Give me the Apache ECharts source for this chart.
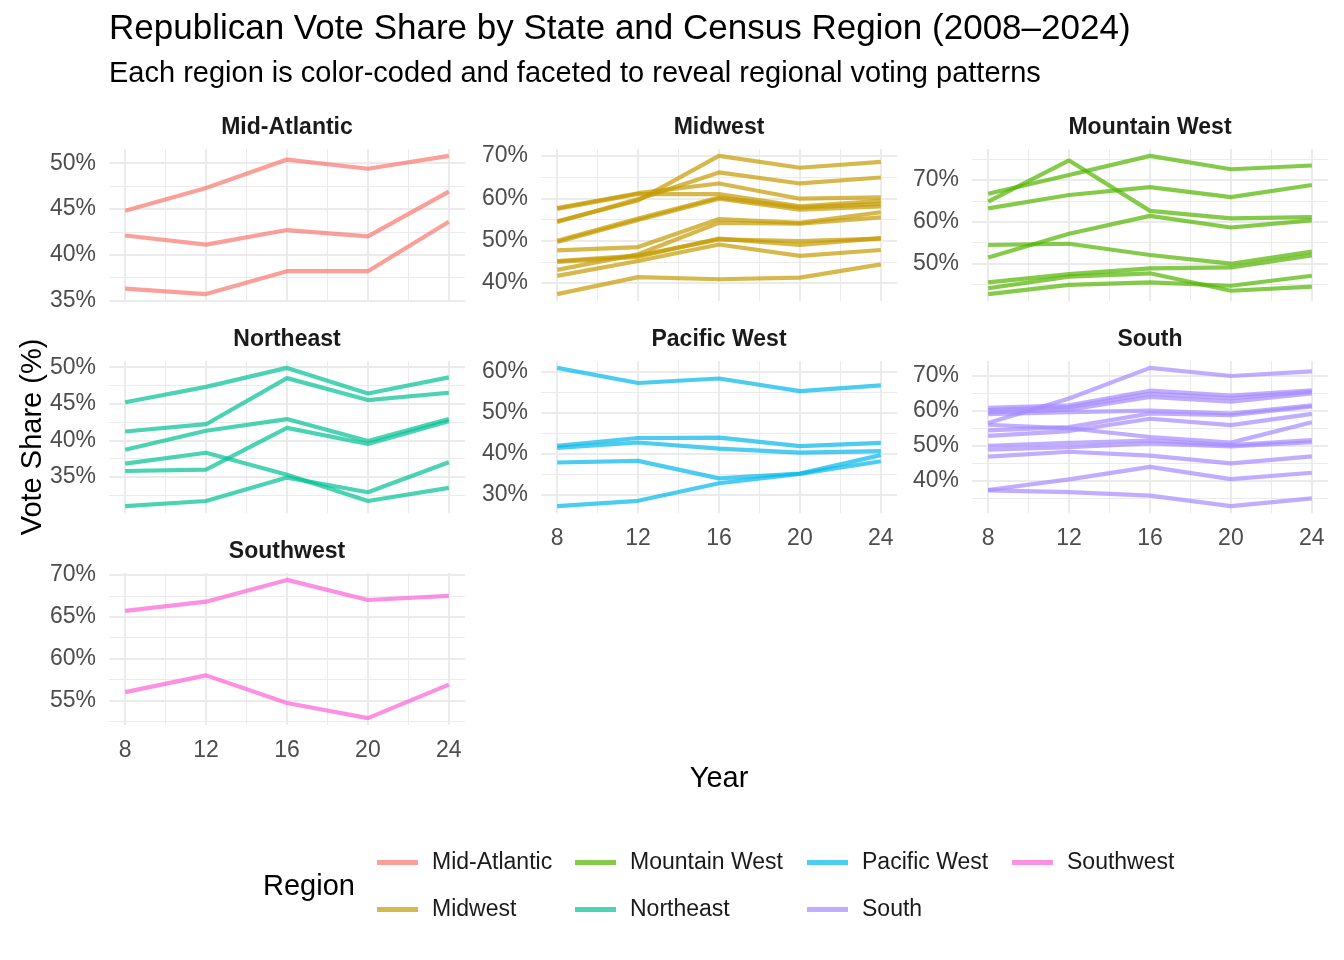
<!DOCTYPE html>
<html><head><meta charset="utf-8">
<script src="https://cdn.jsdelivr.net/npm/echarts@6/dist/echarts.min.js"></script>
<style>html,body{margin:0;padding:0;background:#fff}#c{width:1344px;height:960px}</style>
</head><body><div id="c"></div>
<script>
// ---------- DATA ----------
const years = [8, 12, 16, 20, 24];
const xMajorTicks = [8, 12, 16, 20, 24];
const xMinorTicks = [10, 14, 18, 22];
const regions = ['Mid-Atlantic', 'Midwest', 'Mountain West', 'Northeast', 'Pacific West', 'South', 'Southwest'];
const regionColors = ['#F8766D', '#C49A00', '#53B400', '#00C094', '#00B6EB', '#A58AFF', '#FB61D7'];
const yMajorStep = [5, 10, 10, 5, 10, 10, 5];

const midAtlantic = [
  [44.8, 47.3, 50.4, 49.4, 50.8],
  [42.1, 41.1, 42.7, 42.0, 46.9],
  [36.3, 35.7, 38.2, 38.2, 43.6]
];
const midwest = [
  [54.6, 59.5, 70.0, 67.2, 68.6],
  [54.4, 59.8, 66.1, 63.5, 64.9],
  [57.7, 61.2, 63.5, 59.9, 60.2],
  [57.5, 61.0, 61.0, 58.1, 59.4],
  [50.0, 55.2, 60.2, 57.8, 58.7],
  [49.7, 54.9, 59.9, 57.3, 58.1],
  [47.7, 48.5, 55.1, 54.2, 56.7],
  [43.1, 46.8, 54.2, 54.0, 55.5],
  [45.2, 46.5, 50.3, 49.9, 50.5],
  [45.0, 46.2, 50.5, 49.0, 50.6],
  [41.7, 45.2, 49.1, 46.4, 47.8],
  [37.4, 41.4, 40.9, 41.3, 44.4]
];
const mountainWest = [
  [66.7, 71.2, 75.8, 72.6, 73.5],
  [64.8, 74.7, 62.6, 60.8, 61.1],
  [63.2, 66.4, 68.3, 65.9, 68.8],
  [51.4, 57.1, 61.4, 58.6, 60.3],
  [54.4, 54.7, 52.0, 49.9, 52.8],
  [45.4, 47.4, 48.8, 49.0, 51.9],
  [44.0, 46.8, 47.6, 43.4, 44.4],
  [42.6, 44.8, 45.4, 44.6, 47.0]
];
const northeast = [
  [45.2, 47.3, 49.9, 46.4, 48.6],
  [41.2, 42.2, 48.5, 45.5, 46.5],
  [38.7, 41.3, 42.9, 39.9, 42.9],
  [36.8, 38.3, 35.3, 31.7, 33.5],
  [35.8, 36.0, 41.7, 39.5, 42.6],
  [31.0, 31.7, 34.9, 32.9, 37.0]
];
const pacificWest = [
  [61.0, 57.3, 58.4, 55.3, 56.7],
  [41.9, 43.8, 43.9, 41.8, 42.6],
  [41.4, 42.7, 41.2, 40.2, 40.6],
  [37.8, 38.2, 33.9, 35.1, 39.6],
  [27.1, 28.4, 32.7, 35.0, 38.1]
];
const south = [
  [56.5, 63.5, 72.2, 69.9, 71.2],
  [60.8, 61.5, 65.7, 64.3, 65.8],
  [60.2, 61.0, 64.8, 63.6, 65.4],
  [59.5, 60.3, 63.9, 62.6, 64.9],
  [59.0, 59.6, 60.0, 59.2, 61.5],
  [54.4, 55.3, 59.2, 58.7, 61.2],
  [52.8, 54.2, 57.7, 55.9, 59.1],
  [56.0, 55.0, 52.5, 50.9, 56.7],
  [50.0, 50.8, 51.5, 50.2, 51.6],
  [48.9, 49.6, 50.7, 49.8, 51.0],
  [46.9, 48.3, 47.2, 45.0, 47.0],
  [37.4, 40.4, 44.0, 40.5, 42.3],
  [37.3, 36.8, 35.8, 32.8, 35.0]
];
const southwest = [
  [65.7, 66.8, 69.4, 67.0, 67.5],
  [56.0, 58.0, 54.7, 52.9, 56.9]
];
const regionData = [midAtlantic, midwest, mountainWest, northeast, pacificWest, south, southwest];

// ---------- LAYOUT ----------
const FF = '"Liberation Sans", Arial, Helvetica, sans-serif';
const colLeft = [109, 541, 972];
const rowTop = [149, 361, 573];
const panelW = 356, panelH = 152;
const showXLabels = [false, false, false, false, true, true, true];
const gridColor = '#EBEBEB';
const tickColor = '#4D4D4D';

const grids = [], xAxes = [], yAxes = [], series = [], graphics = [];

function round6(v) { return Math.round(v * 1e6) / 1e6; }

regions.forEach((reg, i) => {
  const row = Math.floor(i / 3), col = i % 3;
  grids.push({ left: colLeft[col], top: rowTop[row], width: panelW, height: panelH });

  // y extent with ggplot-style 5% expansion
  const vals = regionData[i].flat();
  const dmin = Math.min(...vals), dmax = Math.max(...vals);
  const pad = 0.05 * (dmax - dmin);
  const ymin = dmin - pad, ymax = dmax + pad;
  const step = yMajorStep[i];
  const major = [], minor = [];
  for (let v = Math.ceil(ymin / (step / 2)) * (step / 2); v <= ymax + 1e-9; v += step / 2) {
    const r = round6(v);
    if (Math.abs(r / step - Math.round(r / step)) < 1e-6) major.push(r); else minor.push(r);
  }

  const xBase = {
    type: 'value', gridIndex: i, min: 7.2, max: 24.8,
    axisLine: { show: false }
  };
  xAxes.push(Object.assign({}, xBase, {
    position: 'bottom',
    axisTick: { show: false, customValues: xMajorTicks },
    axisLabel: { show: showXLabels[i], customValues: xMajorTicks, margin: 14, fontSize: 23, color: tickColor, fontFamily: FF },
    splitLine: { show: true, lineStyle: { color: gridColor, width: 2 } }
  }));
  xAxes.push(Object.assign({}, xBase, {
    position: 'bottom',
    axisTick: { show: false, customValues: xMinorTicks },
    axisLabel: { show: false, customValues: xMinorTicks },
    splitLine: { show: true, lineStyle: { color: gridColor, width: 1 } }
  }));
  const yBase = { type: 'value', gridIndex: i, min: ymin, max: ymax, axisLine: { show: false }, scale: true };
  yAxes.push(Object.assign({}, yBase, {
    position: 'left',
    axisTick: { show: false, customValues: major },
    axisLabel: { show: true, customValues: major, margin: 13, fontSize: 23, color: tickColor, fontFamily: FF,
      formatter: v => Math.round(v) + '%' },
    splitLine: { show: true, lineStyle: { color: gridColor, width: 2 } }
  }));
  yAxes.push(Object.assign({}, yBase, {
    position: 'left',
    axisTick: { show: false, customValues: minor },
    axisLabel: { show: false, customValues: minor },
    splitLine: { show: true, lineStyle: { color: gridColor, width: 1 } }
  }));

  regionData[i].forEach(state => {
    series.push({
      type: 'line', name: reg,
      xAxisIndex: 2 * i, yAxisIndex: 2 * i,
      data: years.map((y, k) => [y, state[k]]),
      symbol: 'none', showSymbol: false, silent: true,
      lineStyle: { width: 4.2, color: regionColors[i], opacity: 0.7 },
      itemStyle: { color: regionColors[i], opacity: 0.7 },
      z: 3
    });
  });

  // strip label
  graphics.push({
    type: 'text', x: colLeft[col] + panelW / 2, y: rowTop[row] - 21,
    style: { text: reg, fill: '#1A1A1A', fontSize: 23, fontWeight: 'bold', fontFamily: FF, align: 'center', verticalAlign: 'middle' }
  });
});

// titles
graphics.push({ type: 'text', x: 109, y: 29, style: { text: 'Republican Vote Share by State and Census Region (2008–2024)', fill: '#000', fontSize: 35, fontFamily: FF, align: 'left', verticalAlign: 'middle' } });
graphics.push({ type: 'text', x: 109, y: 74, style: { text: 'Each region is color-coded and faceted to reveal regional voting patterns', fill: '#000', fontSize: 29, fontFamily: FF, align: 'left', verticalAlign: 'middle' } });
graphics.push({ type: 'text', x: 719, y: 779, style: { text: 'Year', fill: '#000', fontSize: 29, fontFamily: FF, align: 'center', verticalAlign: 'middle' } });
graphics.push({ type: 'text', x: 33, y: 437, rotation: Math.PI / 2, style: { text: 'Vote Share (%)', fill: '#000', fontSize: 29, fontFamily: FF, align: 'center', verticalAlign: 'middle' } });
graphics.push({ type: 'text', x: 263, y: 887, style: { text: 'Region', fill: '#000', fontSize: 29, fontFamily: FF, align: 'left', verticalAlign: 'middle' } });

// legends (column-major, 2 rows)
const legKeyLeft = [377, 575, 807, 1012];
const legRowCenter = [863, 910];
const legends = regions.map((reg, i) => ({
  data: [reg],
  left: legKeyLeft[Math.floor(i / 2)],
  top: legRowCenter[i % 2] - 12,
  padding: 0,
  icon: 'rect', itemWidth: 41, itemHeight: 5,
  selectedMode: false,
  itemStyle: { opacity: 0.7 },
  textStyle: { fontSize: 23, color: '#1A1A1A', fontFamily: FF, padding: [0, 0, 0, 9] }
}));

const chart = echarts.init(document.getElementById('c'), null, { renderer: 'canvas' });
chart.setOption({
  backgroundColor: '#fff',
  animation: false,
  grid: grids, xAxis: xAxes, yAxis: yAxes, series: series,
  legend: legends, graphic: graphics
});
</script></body></html>
